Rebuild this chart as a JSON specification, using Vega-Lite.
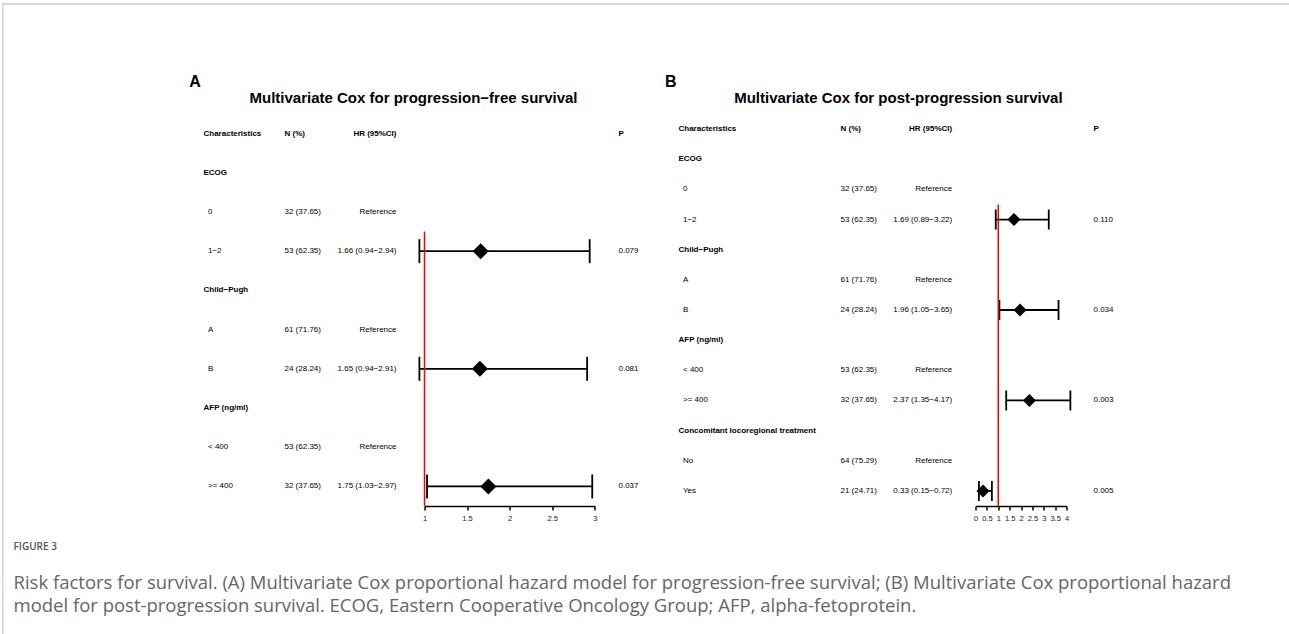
{
  "$schema": "https://vega.github.io/schema/vega-lite/v6.json",
  "background": "white",
  "padding": {"left": 1.5, "top": 3, "right": 0, "bottom": 0},
  "config": {
    "view": {"stroke": null},
    "font": "Liberation Sans",
    "text": {"font": "Liberation Sans", "fontSize": 8, "color": "black"}
  },
  "datasets": {
    "coxA": [
      {"k": 1, "kind": "header", "item": "Characteristics", "n": "N (%)", "hrci": "HR (95%CI)", "p": "P"},
      {"k": 2, "kind": "group", "item": "ECOG"},
      {"k": 3, "kind": "level", "item": "0", "n": "32 (37.65)", "hrci": "Reference"},
      {"k": 4, "kind": "level", "item": "1−2", "n": "53 (62.35)", "hrci": "1.66 (0.94−2.94)", "p": "0.079", "hr": 1.66, "lo": 0.94, "hi": 2.94},
      {"k": 5, "kind": "group", "item": "Child−Pugh"},
      {"k": 6, "kind": "level", "item": "A", "n": "61 (71.76)", "hrci": "Reference"},
      {"k": 7, "kind": "level", "item": "B", "n": "24 (28.24)", "hrci": "1.65 (0.94−2.91)", "p": "0.081", "hr": 1.65, "lo": 0.94, "hi": 2.91},
      {"k": 8, "kind": "group", "item": "AFP (ng/ml)"},
      {"k": 9, "kind": "level", "item": "< 400", "n": "53 (62.35)", "hrci": "Reference"},
      {"k": 10, "kind": "level", "item": ">= 400", "n": "32 (37.65)", "hrci": "1.75 (1.03−2.97)", "p": "0.037", "hr": 1.75, "lo": 1.03, "hi": 2.97}
    ],
    "coxB": [
      {"k": 1, "kind": "header", "item": "Characteristics", "n": "N (%)", "hrci": "HR (95%CI)", "p": "P"},
      {"k": 2, "kind": "group", "item": "ECOG"},
      {"k": 3, "kind": "level", "item": "0", "n": "32 (37.65)", "hrci": "Reference"},
      {"k": 4, "kind": "level", "item": "1−2", "n": "53 (62.35)", "hrci": "1.69 (0.89−3.22)", "p": "0.110", "hr": 1.69, "lo": 0.89, "hi": 3.22},
      {"k": 5, "kind": "group", "item": "Child−Pugh"},
      {"k": 6, "kind": "level", "item": "A", "n": "61 (71.76)", "hrci": "Reference"},
      {"k": 7, "kind": "level", "item": "B", "n": "24 (28.24)", "hrci": "1.96 (1.05−3.65)", "p": "0.034", "hr": 1.96, "lo": 1.05, "hi": 3.65},
      {"k": 8, "kind": "group", "item": "AFP (ng/ml)"},
      {"k": 9, "kind": "level", "item": "< 400", "n": "53 (62.35)", "hrci": "Reference"},
      {"k": 10, "kind": "level", "item": ">= 400", "n": "32 (37.65)", "hrci": "2.37 (1.35−4.17)", "p": "0.003", "hr": 2.37, "lo": 1.35, "hi": 4.17},
      {"k": 11, "kind": "group", "item": "Concomitant locoregional treatment"},
      {"k": 12, "kind": "level", "item": "No", "n": "64 (75.29)", "hrci": "Reference"},
      {"k": 13, "kind": "level", "item": "Yes", "n": "21 (24.71)", "hrci": "0.33 (0.15−0.72)", "p": "0.005", "hr": 0.33, "lo": 0.15, "hi": 0.72}
    ]
  },
  "bounds": "flush",
  "spacing": 0,
  "hconcat": [
    {
      "width": 0.01, "height": 629,
      "view": {"stroke": "#cccccc", "strokeWidth": 1.2},
      "data": {"values": [{}]},
      "mark": {"type": "point", "size": 0, "opacity": 0, "strokeWidth": 0}
    },
    {
      "title": {
        "text": "FIGURE 3",
        "subtitle": [
          "Risk factors for survival. (A) Multivariate Cox proportional hazard model for progression-free survival; (B) Multivariate Cox proportional hazard",
          "model for post-progression survival. ECOG, Eastern Cooperative Oncology Group; AFP, alpha-fetoprotein."
        ],
        "orient": "bottom", "anchor": "start", "frame": "group", "dx": 10, "offset": 20,
        "font": "Open Sans", "fontSize": 10, "fontWeight": 600, "color": "#555555", "baseline": "top",
        "subtitleFont": "Open Sans", "subtitleFontSize": 18.5, "subtitleColor": "#666666",
        "subtitlePadding": 22, "subtitleLineHeight": 23
      },
      "bounds": "flush",
      "spacing": 109,
      "vconcat": [
        {
          "width": 1285, "height": 0.01,
          "view": {"stroke": "#d6d6d6", "strokeWidth": 2},
          "data": {"values": [{}]},
          "mark": {"type": "point", "size": 0, "opacity": 0, "strokeWidth": 0}
        },
        {
          "bounds": "flush",
          "spacing": 0,
          "hconcat": [
            {"width": 199.3, "height": 392, "data": {"values": [{}]}, "mark": {"type": "point", "size": 0, "opacity": 0, "strokeWidth": 0}},
            {
              "title": {"text": "A", "anchor": "start", "frame": "group", "dx": -14.3, "offset": 11.3, "fontSize": 16, "fontWeight": "bold", "font": "Liberation Sans", "color": "black", "baseline": "alphabetic"},
              "width": 81, "height": 392,
              "data": {"name": "coxA"},
              "encoding": {
                "y": {"field": "k", "type": "ordinal", "scale": {"type": "band", "domain": [1,2,3,4,5,6,7,8,9,10], "paddingInner": 0, "paddingOuter": 0}, "axis": null},
                "x": {"datum": "Characteristics", "type": "nominal", "bandPosition": 0, "scale": {"type": "band", "domain": ["Characteristics"], "paddingInner": 0, "paddingOuter": 0}, "axis": null},
                "text": {"field": "item", "type": "nominal"}
              },
              "layer": [
                {"transform": [{"filter": "datum.kind !== 'level'"}], "mark": {"type": "text", "align": "left", "baseline": "middle", "fontWeight": "bold"}},
                {"transform": [{"filter": "datum.kind === 'level'"}], "mark": {"type": "text", "align": "left", "baseline": "middle", "dx": 4.5}}
              ]
            },
            {
              "title": {"text": "Multivariate Cox for progression−free survival", "anchor": "middle", "frame": "group", "dx": 73, "offset": 0, "dy": 3.7, "fontSize": 15, "fontWeight": "bold", "font": "Liberation Sans", "color": "black", "baseline": "alphabetic"},
              "width": 112, "height": 392,
              "data": {"name": "coxA"},
              "encoding": {
                "y": {"field": "k", "type": "ordinal", "scale": {"type": "band", "domain": [1,2,3,4,5,6,7,8,9,10], "paddingInner": 0, "paddingOuter": 0}, "axis": null}
              },
              "layer": [
                {"transform": [{"filter": "datum.kind === 'header'"}], "mark": {"type": "text", "align": "left", "baseline": "middle", "fontWeight": "bold"},
                 "encoding": {"x": {"datum": "N (%)", "type": "nominal", "bandPosition": 0, "scale": {"type": "band", "domain": ["N (%)", "HR (95%CI)"], "paddingInner": 0, "paddingOuter": 0}, "axis": null}, "text": {"field": "n", "type": "nominal"}}},
                {"transform": [{"filter": "datum.kind === 'level'"}], "mark": {"type": "text", "align": "left", "baseline": "middle"},
                 "encoding": {"x": {"datum": "N (%)", "type": "nominal", "bandPosition": 0, "axis": null}, "text": {"field": "n", "type": "nominal"}}},
                {"transform": [{"filter": "datum.kind === 'header'"}], "mark": {"type": "text", "align": "right", "baseline": "middle", "fontWeight": "bold"},
                 "encoding": {"x": {"datum": "HR (95%CI)", "type": "nominal", "bandPosition": 1, "axis": null}, "text": {"field": "hrci", "type": "nominal"}}},
                {"transform": [{"filter": "datum.kind === 'level'"}], "mark": {"type": "text", "align": "right", "baseline": "middle"},
                 "encoding": {"x": {"datum": "HR (95%CI)", "type": "nominal", "bandPosition": 1, "axis": null}, "text": {"field": "hrci", "type": "nominal"}}}
              ]
            },
            {"width": 27.7, "height": 392, "data": {"values": [{}]}, "mark": {"type": "point", "size": 0, "opacity": 0, "strokeWidth": 0}},
            {
              "width": 170.3, "height": 392,
              "data": {"name": "coxA"},
              "layer": [
                {"transform": [{"filter": "isValid(datum.hr)"}], "mark": {"type": "rule", "color": "black", "strokeWidth": 1.8},
                 "encoding": {
                   "x": {"field": "lo", "type": "quantitative", "scale": {"domain": [1, 3], "nice": false, "zero": false},
                         "axis": {"values": [1, 1.5, 2, 2.5, 3], "format": "~g", "title": null, "grid": false, "domainColor": "black", "domainWidth": 1.5, "tickColor": "black", "tickWidth": 1.5, "tickSize": 4, "labelFont": "Liberation Sans", "labelFontSize": 7.5, "labelColor": "#222222", "labelPadding": 4, "labelOverlap": false, "labelFlush": false}},
                   "x2": {"field": "hi"},
                   "y": {"field": "k", "type": "ordinal", "scale": {"type": "band", "domain": [1,2,3,4,5,6,7,8,9,10], "paddingInner": 0, "paddingOuter": 0}, "axis": null}
                 }},
                {"transform": [{"filter": "isValid(datum.hr)"}], "mark": {"type": "tick", "orient": "vertical", "size": 24, "thickness": 1.8, "color": "black", "opacity": 1},
                 "encoding": {"x": {"field": "lo", "type": "quantitative",
                         "axis": {"values": [1, 1.5, 2, 2.5, 3], "format": "~g", "title": null, "grid": false, "domainColor": "black", "domainWidth": 1.5, "tickColor": "black", "tickWidth": 1.5, "tickSize": 4, "labelFont": "Liberation Sans", "labelFontSize": 7.5, "labelColor": "#222222", "labelPadding": 4, "labelOverlap": false, "labelFlush": false}}, "y": {"field": "k", "type": "ordinal"}}},
                {"transform": [{"filter": "isValid(datum.hr)"}], "mark": {"type": "tick", "orient": "vertical", "size": 24, "thickness": 1.8, "color": "black", "opacity": 1},
                 "encoding": {"x": {"field": "hi", "type": "quantitative",
                         "axis": {"values": [1, 1.5, 2, 2.5, 3], "format": "~g", "title": null, "grid": false, "domainColor": "black", "domainWidth": 1.5, "tickColor": "black", "tickWidth": 1.5, "tickSize": 4, "labelFont": "Liberation Sans", "labelFontSize": 7.5, "labelColor": "#222222", "labelPadding": 4, "labelOverlap": false, "labelFlush": false}}, "y": {"field": "k", "type": "ordinal"}}},
                {"transform": [{"filter": "isValid(datum.hr)"}], "mark": {"type": "point", "shape": "diamond", "filled": true, "color": "black", "opacity": 1, "size": 256},
                 "encoding": {"x": {"field": "hr", "type": "quantitative",
                         "axis": {"values": [1, 1.5, 2, 2.5, 3], "format": "~g", "title": null, "grid": false, "domainColor": "black", "domainWidth": 1.5, "tickColor": "black", "tickWidth": 1.5, "tickSize": 4, "labelFont": "Liberation Sans", "labelFontSize": 7.5, "labelColor": "#222222", "labelPadding": 4, "labelOverlap": false, "labelFlush": false}}, "y": {"field": "k", "type": "ordinal"}}},
                {"data": {"values": [{"ref": 1}]}, "mark": {"type": "rule", "color": "#ff0000", "strokeWidth": 1.5},
                 "encoding": {"x": {"field": "ref", "type": "quantitative",
                         "axis": {"values": [1, 1.5, 2, 2.5, 3], "format": "~g", "title": null, "grid": false, "domainColor": "black", "domainWidth": 1.5, "tickColor": "black", "tickWidth": 1.5, "tickSize": 4, "labelFont": "Liberation Sans", "labelFontSize": 7.5, "labelColor": "#222222", "labelPadding": 4, "labelOverlap": false, "labelFlush": false}}, "y": {"datum": 4, "type": "ordinal", "bandPosition": 0}, "y2": {"value": "height"}}}
              ]
            },
            {"width": 22.7, "height": 392, "data": {"values": [{}]}, "mark": {"type": "point", "size": 0, "opacity": 0, "strokeWidth": 0}},
            {
              "width": 59.7, "height": 392,
              "data": {"name": "coxA"},
              "encoding": {
                "y": {"field": "k", "type": "ordinal", "scale": {"type": "band", "domain": [1,2,3,4,5,6,7,8,9,10], "paddingInner": 0, "paddingOuter": 0}, "axis": null},
                "x": {"datum": "P", "type": "nominal", "bandPosition": 0, "scale": {"type": "band", "domain": ["P"], "paddingInner": 0, "paddingOuter": 0}, "axis": null},
                "text": {"field": "p", "type": "nominal"}
              },
              "layer": [
                {"transform": [{"filter": "datum.kind === 'header'"}], "mark": {"type": "text", "align": "left", "baseline": "middle", "fontWeight": "bold"}},
                {"transform": [{"filter": "datum.kind === 'level' && isValid(datum.p)"}], "mark": {"type": "text", "align": "left", "baseline": "middle"}}
              ]
            },
            {
              "title": {"text": "B", "anchor": "start", "frame": "group", "dx": -13.4, "offset": 11.3, "fontSize": 16, "fontWeight": "bold", "font": "Liberation Sans", "color": "black", "baseline": "alphabetic"},
              "width": 161.6, "height": 392,
              "data": {"name": "coxB"},
              "encoding": {
                "y": {"field": "k", "type": "ordinal", "scale": {"type": "band", "domain": [1,2,3,4,5,6,7,8,9,10,11,12,13], "paddingInner": 0, "paddingOuter": 0}, "axis": null},
                "x": {"datum": "Characteristics", "type": "nominal", "bandPosition": 0, "scale": {"type": "band", "domain": ["Characteristics"], "paddingInner": 0, "paddingOuter": 0}, "axis": null},
                "text": {"field": "item", "type": "nominal"}
              },
              "layer": [
                {"transform": [{"filter": "datum.kind !== 'level'"}], "mark": {"type": "text", "align": "left", "baseline": "middle", "fontWeight": "bold"}},
                {"transform": [{"filter": "datum.kind === 'level'"}], "mark": {"type": "text", "align": "left", "baseline": "middle", "dx": 4.5}}
              ]
            },
            {
              "title": {"text": "Multivariate Cox for post-progression survival", "anchor": "middle", "frame": "group", "dx": 2, "offset": 0, "dy": 3.7, "fontSize": 15, "fontWeight": "bold", "font": "Liberation Sans", "color": "black", "baseline": "alphabetic"},
              "width": 111.7, "height": 392,
              "data": {"name": "coxB"},
              "encoding": {
                "y": {"field": "k", "type": "ordinal", "scale": {"type": "band", "domain": [1,2,3,4,5,6,7,8,9,10,11,12,13], "paddingInner": 0, "paddingOuter": 0}, "axis": null}
              },
              "layer": [
                {"transform": [{"filter": "datum.kind === 'header'"}], "mark": {"type": "text", "align": "left", "baseline": "middle", "fontWeight": "bold"},
                 "encoding": {"x": {"datum": "N (%)", "type": "nominal", "bandPosition": 0, "scale": {"type": "band", "domain": ["N (%)", "HR (95%CI)"], "paddingInner": 0, "paddingOuter": 0}, "axis": null}, "text": {"field": "n", "type": "nominal"}}},
                {"transform": [{"filter": "datum.kind === 'level'"}], "mark": {"type": "text", "align": "left", "baseline": "middle"},
                 "encoding": {"x": {"datum": "N (%)", "type": "nominal", "bandPosition": 0, "axis": null}, "text": {"field": "n", "type": "nominal"}}},
                {"transform": [{"filter": "datum.kind === 'header'"}], "mark": {"type": "text", "align": "right", "baseline": "middle", "fontWeight": "bold"},
                 "encoding": {"x": {"datum": "HR (95%CI)", "type": "nominal", "bandPosition": 1, "axis": null}, "text": {"field": "hrci", "type": "nominal"}}},
                {"transform": [{"filter": "datum.kind === 'level'"}], "mark": {"type": "text", "align": "right", "baseline": "middle"},
                 "encoding": {"x": {"datum": "HR (95%CI)", "type": "nominal", "bandPosition": 1, "axis": null}, "text": {"field": "hrci", "type": "nominal"}}}
              ]
            },
            {"width": 22.7, "height": 392, "data": {"values": [{}]}, "mark": {"type": "point", "size": 0, "opacity": 0, "strokeWidth": 0}},
            {
              "width": 91, "height": 392,
              "data": {"name": "coxB"},
              "layer": [
                {"transform": [{"filter": "isValid(datum.hr)"}], "mark": {"type": "rule", "color": "black", "strokeWidth": 1.8},
                 "encoding": {
                   "x": {"field": "lo", "type": "quantitative", "scale": {"domain": [0, 4], "nice": false, "zero": false},
                         "axis": {"values": [0, 0.5, 1, 1.5, 2, 2.5, 3, 3.5, 4], "format": "~g", "title": null, "grid": false, "domainColor": "black", "domainWidth": 1.5, "tickColor": "black", "tickWidth": 1.5, "tickSize": 4, "labelFont": "Liberation Sans", "labelFontSize": 7.5, "labelColor": "#222222", "labelPadding": 4, "labelOverlap": false, "labelFlush": false}},
                   "x2": {"field": "hi"},
                   "y": {"field": "k", "type": "ordinal", "scale": {"type": "band", "domain": [1,2,3,4,5,6,7,8,9,10,11,12,13], "paddingInner": 0, "paddingOuter": 0}, "axis": null}
                 }},
                {"transform": [{"filter": "isValid(datum.hr)"}], "mark": {"type": "tick", "orient": "vertical", "size": 20, "thickness": 1.8, "color": "black", "opacity": 1},
                 "encoding": {"x": {"field": "lo", "type": "quantitative",
                         "axis": {"values": [0, 0.5, 1, 1.5, 2, 2.5, 3, 3.5, 4], "format": "~g", "title": null, "grid": false, "domainColor": "black", "domainWidth": 1.5, "tickColor": "black", "tickWidth": 1.5, "tickSize": 4, "labelFont": "Liberation Sans", "labelFontSize": 7.5, "labelColor": "#222222", "labelPadding": 4, "labelOverlap": false, "labelFlush": false}}, "y": {"field": "k", "type": "ordinal"}}},
                {"transform": [{"filter": "isValid(datum.hr)"}], "mark": {"type": "tick", "orient": "vertical", "size": 20, "thickness": 1.8, "color": "black", "opacity": 1},
                 "encoding": {"x": {"field": "hi", "type": "quantitative",
                         "axis": {"values": [0, 0.5, 1, 1.5, 2, 2.5, 3, 3.5, 4], "format": "~g", "title": null, "grid": false, "domainColor": "black", "domainWidth": 1.5, "tickColor": "black", "tickWidth": 1.5, "tickSize": 4, "labelFont": "Liberation Sans", "labelFontSize": 7.5, "labelColor": "#222222", "labelPadding": 4, "labelOverlap": false, "labelFlush": false}}, "y": {"field": "k", "type": "ordinal"}}},
                {"transform": [{"filter": "isValid(datum.hr)"}], "mark": {"type": "point", "shape": "diamond", "filled": true, "color": "black", "opacity": 1, "size": 169},
                 "encoding": {"x": {"field": "hr", "type": "quantitative",
                         "axis": {"values": [0, 0.5, 1, 1.5, 2, 2.5, 3, 3.5, 4], "format": "~g", "title": null, "grid": false, "domainColor": "black", "domainWidth": 1.5, "tickColor": "black", "tickWidth": 1.5, "tickSize": 4, "labelFont": "Liberation Sans", "labelFontSize": 7.5, "labelColor": "#222222", "labelPadding": 4, "labelOverlap": false, "labelFlush": false}}, "y": {"field": "k", "type": "ordinal"}}},
                {"data": {"values": [{"ref": 1}]}, "mark": {"type": "rule", "color": "#ff0000", "strokeWidth": 1.5},
                 "encoding": {"x": {"field": "ref", "type": "quantitative",
                         "axis": {"values": [0, 0.5, 1, 1.5, 2, 2.5, 3, 3.5, 4], "format": "~g", "title": null, "grid": false, "domainColor": "black", "domainWidth": 1.5, "tickColor": "black", "tickWidth": 1.5, "tickSize": 4, "labelFont": "Liberation Sans", "labelFontSize": 7.5, "labelColor": "#222222", "labelPadding": 4, "labelOverlap": false, "labelFlush": false}}, "y": {"datum": 4, "type": "ordinal", "bandPosition": 0}, "y2": {"value": "height"}}}
              ]
            },
            {"width": 26.3, "height": 392, "data": {"values": [{}]}, "mark": {"type": "point", "size": 0, "opacity": 0, "strokeWidth": 0}},
            {
              "width": 32, "height": 392,
              "data": {"name": "coxB"},
              "encoding": {
                "y": {"field": "k", "type": "ordinal", "scale": {"type": "band", "domain": [1,2,3,4,5,6,7,8,9,10,11,12,13], "paddingInner": 0, "paddingOuter": 0}, "axis": null},
                "x": {"datum": "P", "type": "nominal", "bandPosition": 0, "scale": {"type": "band", "domain": ["P"], "paddingInner": 0, "paddingOuter": 0}, "axis": null},
                "text": {"field": "p", "type": "nominal"}
              },
              "layer": [
                {"transform": [{"filter": "datum.kind === 'header'"}], "mark": {"type": "text", "align": "left", "baseline": "middle", "fontWeight": "bold"}},
                {"transform": [{"filter": "datum.kind === 'level' && isValid(datum.p)"}], "mark": {"type": "text", "align": "left", "baseline": "middle"}}
              ]
            }
          ]
        }
      ]
    }
  ]
}
